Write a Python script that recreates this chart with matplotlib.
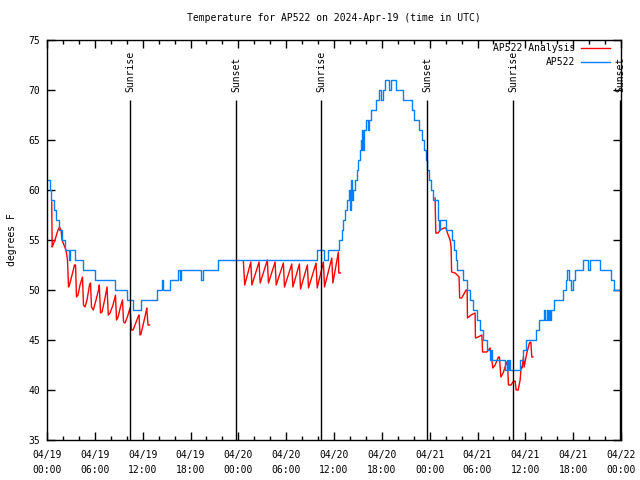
import pandas as pd
import matplotlib
matplotlib.use('Agg')
import matplotlib.pyplot as plt
import matplotlib.dates as mdates

# observed temperature (AP522): change points, hours since 2024-04-19 00:00 UTC
obs_hours = [0.13, 0.38, 0.56, 0.82, 1.19, 1.51, 1.88, 2.26, 2.70, 2.89, 3.51, 4.52,
             5.96, 8.53, 10.04, 10.79, 11.79, 13.80, 14.37, 14.55, 15.43, 16.44, 16.69,
             16.81, 19.32, 19.57, 21.46, 33.88, 34.76, 35.26, 36.64, 36.95, 37.14, 37.39,
             37.64, 37.89, 38.02, 38.14, 38.27, 38.39, 38.64, 38.90, 39.02, 39.21, 39.34,
             39.46, 39.52, 39.65, 39.77, 40.03, 40.28, 40.40, 40.65, 41.28, 41.66, 41.91,
             42.16, 42.41, 42.91, 43.16, 43.79, 44.67, 45.80, 46.05, 46.68, 47.05, 47.30,
             47.49, 47.68, 47.87, 48.18, 48.43, 48.99, 49.12, 49.25, 50.06, 50.82, 51.00,
             51.32, 51.44, 52.20, 52.70, 53.07, 53.45, 53.95, 54.33, 54.71, 55.21, 55.58,
             55.71, 55.83, 57.47, 57.72, 57.84, 57.97, 58.09, 59.35, 59.72, 60.10, 61.35,
             61.73, 62.36, 62.48, 62.74, 62.86, 62.99, 63.11, 63.24, 63.61, 64.74, 65.12,
             65.24, 65.50, 65.75, 66.00, 66.25, 67.25, 67.88, 68.13, 69.39, 70.77, 71.14,
             72.00]
obs_temp = [61, 60, 59, 58, 57, 56, 55, 54, 53, 54, 53, 52,
            51, 50, 49, 48, 49, 50, 51, 50, 51, 52, 51,
            52, 51, 52, 53, 54, 53, 54, 55, 56, 57, 58,
            59, 60, 58, 61, 59, 60, 61, 62, 63, 64, 65,
            64, 66, 64, 66, 67, 66, 67, 68, 69, 70, 69,
            70, 71, 70, 71, 70, 69, 68, 67, 66, 65, 64,
            63, 62, 61, 60, 59, 57, 56, 57, 56, 55, 54,
            53, 52, 51, 50, 49, 48, 47, 46, 45, 44, 43,
            44, 43, 42, 43, 42, 43, 42, 43, 44, 45, 46,
            47, 48, 47, 48, 47, 48, 47, 48, 49, 50, 51,
            52, 51, 50, 51, 52, 53, 52, 53, 52, 51, 50,
            50]

# analysis (AP522 Analysis), three separate runs
ana1_hours = [0.59, 0.65, 0.75, 1.00, 1.38, 1.57, 1.76, 1.88, 2.13, 2.38, 2.57, 2.70,
              2.82, 3.14, 3.45, 3.58, 3.70, 3.89, 4.14, 4.45, 4.58, 4.77, 5.02, 5.33,
              5.46, 5.58, 5.81, 6.15, 6.46, 6.56, 6.71, 6.90, 7.28, 7.53, 7.69, 7.90,
              8.28, 8.59, 8.72, 8.91, 9.28, 9.47, 9.60, 9.79, 10.16, 10.41, 10.60, 10.79,
              11.04, 11.42, 11.54, 11.67, 11.79, 12.05, 12.42, 12.51, 12.67, 12.86]
ana1_temp = [58.8, 54.3, 54.5, 55.0, 56.0, 56.3, 56.0, 55.0, 54.5, 54.0, 53.0, 50.3,
             50.5, 51.5, 52.5, 52.5, 49.3, 49.5, 50.5, 51.3, 48.5, 48.3, 49.0, 50.5,
             50.7, 48.3, 48.0, 49.0, 50.0, 50.5, 47.7, 47.8, 49.2, 50.3, 47.5, 47.7,
             48.5, 49.5, 47.0, 47.3, 48.5, 49.0, 46.8, 46.7, 47.5, 48.2, 46.0, 46.0,
             46.5, 47.3, 47.5, 45.5, 45.6, 46.5, 47.8, 48.2, 46.5, 46.5]

ana2_hours = [24.63, 24.80, 25.56, 25.70, 26.60, 26.74, 27.64, 27.78, 28.61, 28.75,
              29.65, 29.79, 30.70, 30.84, 31.66, 31.80, 32.66, 32.80, 33.75, 33.89,
              34.67, 34.81, 35.72, 35.86, 36.55, 36.60, 36.80]
ana2_temp = [52.9, 50.5, 52.8, 50.5, 52.8, 50.7, 53.0, 50.7, 52.8, 50.5,
             52.7, 50.3, 52.6, 50.3, 52.6, 50.1, 52.5, 50.2, 52.7, 50.2,
             52.8, 50.3, 53.2, 50.7, 53.8, 51.7, 51.7]

ana3_hours = [48.68, 48.77, 49.06, 49.31, 49.81, 50.06, 50.23, 50.56, 50.69, 50.75,
              51.19, 51.69, 51.76, 52.01, 52.23, 52.57, 52.70, 52.74, 53.19, 53.70,
              53.74, 54.08, 54.55, 54.64, 55.17, 55.58, 55.80, 55.92, 56.21, 56.62,
              56.75, 56.93, 57.21, 57.67, 57.78, 57.88, 58.22, 58.44, 58.72, 58.85,
              59.10, 59.35, 59.47, 59.60, 59.76, 59.85, 60.19, 60.51, 60.69, 60.81,
              60.94]
ana3_temp = [59.2, 55.7, 55.7, 56.0, 56.2, 56.2, 55.7, 55.0, 54.3, 51.8,
             51.7, 51.3, 49.2, 49.2, 49.5, 50.0, 50.0, 47.2, 47.5, 47.7,
             45.2, 45.3, 45.5, 43.8, 43.8, 44.2, 43.0, 42.2, 42.5, 43.3,
             43.3, 41.3, 41.7, 42.8, 42.5, 40.5, 40.5, 40.8, 40.9, 40.0,
             40.0, 41.0, 42.3, 42.2, 43.3, 42.3, 43.7, 44.7, 44.8, 43.3,
             43.3]

sun_hours = [10.41, 23.71, 34.38, 47.68, 58.47, 71.90]
sun_labels = ['Sunrise', 'Sunset', 'Sunrise', 'Sunset', 'Sunrise', 'Sunset']

base = pd.Timestamp('2024-04-19 00:00')


def to_time(hours):
    return base + pd.to_timedelta(hours, unit='h')


plt.rcParams['font.family'] = ['DejaVu Sans Mono']
plt.rcParams['font.size'] = 7

fig = plt.figure(figsize=(6.4, 4.8), dpi=100)
ax = fig.add_axes([47 / 640, 40 / 480, 574 / 640, 400 / 480])

red = '#ff0000'
blue = '#0080ff'

for h, t in [(ana1_hours, ana1_temp), (ana2_hours, ana2_temp), (ana3_hours, ana3_temp)]:
    ax.plot(to_time(h), t, color=red, lw=1.0)
ax.plot(to_time(obs_hours), obs_temp, color=blue, lw=1.0, drawstyle='steps-post')

# sunrise / sunset markers
for h, lbl in zip(sun_hours, sun_labels):
    t = to_time(h)
    ax.vlines(t, 35, 69, color='black', lw=1.0)
    ax.text(t, 69.8, lbl, rotation=90, ha='center', va='bottom')

ax.set_xlim(to_time(0), to_time(72))
ax.set_ylim(35, 75)
ax.set_yticks(range(35, 76, 5))

major = [to_time(h) for h in range(0, 73, 6)]
ax.set_xticks(major)
labels = ax.set_xticklabels([t.strftime('%m/%d\n%H:%M') for t in major])
for lab in labels:
    lab.set_linespacing(1.6)
ax.set_xticks([to_time(h) for h in range(0, 73, 2)], minor=True)

ax.tick_params(which='both', direction='in', top=True, right=True, width=1.0)
ax.tick_params(which='major', length=6)
ax.tick_params(which='minor', length=3)
ax.tick_params(axis='x', pad=7)
ax.tick_params(axis='y', pad=5)
for s in ax.spines.values():
    s.set_linewidth(1.0)

ax.set_ylabel('degrees F', labelpad=8)
fig.text(334 / 640, 1 - 18 / 480, 'Temperature for AP522 on 2024-Apr-19 (time in UTC)',
         ha='center', va='center')

# gnuplot style key: right-aligned text, sample line after it
key = [('AP522 Analysis', red, 0.980), ('AP522', blue, 0.945)]
for txt, col, y in key:
    ax.text(0.920, y, txt, transform=ax.transAxes, ha='right', va='center')
    ax.plot([0.930, 0.981], [y, y], transform=ax.transAxes, color=col, lw=1.0)

plt.savefig('out.png', dpi=100)
